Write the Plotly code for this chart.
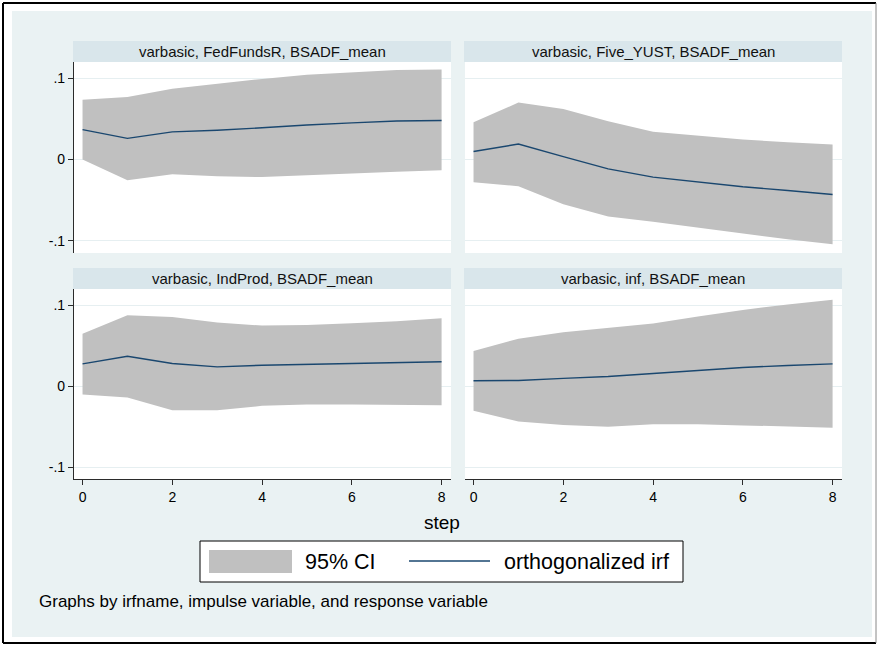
import plotly.graph_objects as go

# ---------------- data ----------------
steps = [0, 1, 2, 3, 4, 5, 6, 7, 8]

panel_titles = [
    "varbasic, FedFundsR, BSADF_mean",
    "varbasic, Five_YUST, BSADF_mean",
    "varbasic, IndProd, BSADF_mean",
    "varbasic, inf, BSADF_mean",
]

fed_irf = [0.0367, 0.0260, 0.0340, 0.0360, 0.0390, 0.0425, 0.0450, 0.0473, 0.0480]
fed_lo = [0.0000, -0.0253, -0.0180, -0.0204, -0.0216, -0.0190, -0.0170, -0.0150, -0.0133]
fed_hi = [0.0735, 0.0767, 0.0870, 0.0930, 0.0990, 0.1040, 0.1070, 0.1100, 0.1105]

five_irf = [0.0098, 0.0190, 0.0035, -0.0114, -0.0216, -0.0278, -0.0335, -0.0380, -0.0429]
five_lo = [-0.0278, -0.0327, -0.0550, -0.0700, -0.0763, -0.0837, -0.0910, -0.0980, -0.1040]
five_hi = [0.0457, 0.0700, 0.0620, 0.0470, 0.0340, 0.0290, 0.0245, 0.0212, 0.0184]

ind_irf = [0.0273, 0.0367, 0.0278, 0.0237, 0.0257, 0.0270, 0.0280, 0.0294, 0.0300]
ind_lo = [-0.0106, -0.0143, -0.0298, -0.0300, -0.0245, -0.0229, -0.0229, -0.0233, -0.0237]
ind_hi = [0.0645, 0.0873, 0.0853, 0.0784, 0.0747, 0.0755, 0.0776, 0.0800, 0.0837]

inf_irf = [0.0065, 0.0069, 0.0094, 0.0118, 0.0155, 0.0196, 0.0229, 0.0253, 0.0273]
inf_lo = [-0.0306, -0.0437, -0.0480, -0.0502, -0.0473, -0.0473, -0.0486, -0.0498, -0.0514]
inf_hi = [0.0433, 0.0584, 0.0665, 0.0722, 0.0771, 0.0857, 0.0939, 0.1008, 0.1065]

y_tickvals = [-0.1, 0, 0.1]
y_ticktext = ["-.1", "0", ".1"]
x_tickvals = [0, 2, 4, 6, 8]
x_ticktext = ["0", "2", "4", "6", "8"]

legend_labels = ["95% CI", "orthogonalized irf"]
x_title = "step"
note_text = "Graphs by irfname, impulse variable, and response variable"

# ---------------- style ----------------
W, H = 879, 646
FONT = "Arial, Liberation Sans, sans-serif"
NAVY = "#1a476f"
CI_GRAY = "#c0c0c0"
BG = "#eaf2f3"
STRIP = "#d9e6eb"
GRID = "#e6eff1"
AXIS = "#2b2b2b"


def px(x):
    return x / W


def py(y):
    return 1 - y / H


# panel geometry in pixels: (x0, x1, y_top, y_bottom)
col_x = [(74, 451), (465, 842)]
row_y = [(62, 253), (289, 479)]
strip_h = 21

series = [
    (fed_irf, fed_lo, fed_hi),
    (five_irf, five_lo, five_hi),
    (ind_irf, ind_lo, ind_hi),
    (inf_irf, inf_lo, inf_hi),
]

fig = go.Figure()
shapes = []
annotations = []

# outer background and frame
shapes.append(dict(type="rect", xref="paper", yref="paper", x0=px(12), x1=px(872),
                   y0=py(637), y1=py(11), fillcolor=BG, line=dict(width=0), layer="below"))
for (x0, y0, x1, y1, c, w) in [(3, 3, 876, 3, "black", 2), (3, 3, 3, 643, "black", 2),
                               (3, 643, 876, 643, "black", 2), (876, 3, 876, 643, "#888888", 1)]:
    shapes.append(dict(type="line", xref="paper", yref="paper", x0=px(x0), x1=px(x1),
                       y0=py(y0), y1=py(y1), line=dict(color=c, width=w), layer="below"))

for i, (irf, lo, hi) in enumerate(series):
    r, c = divmod(i, 2)
    n = i + 1
    xa = "x" if n == 1 else f"x{n}"
    ya = "y" if n == 1 else f"y{n}"
    (x0, x1), (yt, yb) = col_x[c], row_y[r]

    fig.add_trace(go.Scatter(x=steps, y=lo, mode="lines", line=dict(width=0, color=CI_GRAY),
                             showlegend=False, hoverinfo="skip", xaxis=xa, yaxis=ya))
    fig.add_trace(go.Scatter(x=steps, y=hi, mode="lines", line=dict(width=0, color=CI_GRAY),
                             fill="tonexty", fillcolor=CI_GRAY, name=legend_labels[0],
                             showlegend=False, xaxis=xa, yaxis=ya))
    fig.add_trace(go.Scatter(x=steps, y=irf, mode="lines", line=dict(width=1.4, color=NAVY),
                             name=legend_labels[1], showlegend=False, xaxis=xa, yaxis=ya))

    xkey = "xaxis" if n == 1 else f"xaxis{n}"
    ykey = "yaxis" if n == 1 else f"yaxis{n}"
    bottom = (r == 1)
    left = (c == 0)
    fig.update_layout({
        xkey: dict(domain=[px(x0), px(x1)], anchor=ya, range=[-0.19, 8.21],
                   showgrid=False, zeroline=False,
                   showline=bottom, linecolor=AXIS, linewidth=1.2,
                   ticks="outside" if bottom else "", ticklen=5, tickcolor=AXIS,
                   tickvals=x_tickvals, ticktext=x_ticktext, showticklabels=bottom,
                   tickfont=dict(family=FONT, size=14, color="black")),
        ykey: dict(domain=[py(yb), py(yt)], anchor=xa, range=[-0.1148, 0.1198],
                   showgrid=True, gridcolor=GRID, gridwidth=1, zeroline=False,
                   showline=left, linecolor=AXIS, linewidth=1.2,
                   ticks="outside" if left else "", ticklen=5, tickcolor=AXIS,
                   tickvals=y_tickvals, ticktext=y_ticktext, showticklabels=left,
                   tickfont=dict(family=FONT, size=14, color="black")),
    })

    # white plot area
    shapes.append(dict(type="rect", xref="paper", yref="paper", x0=px(x0), x1=px(x1),
                       y0=py(yb), y1=py(yt), fillcolor="white", line=dict(width=0), layer="below"))
    # strip header
    sx0 = x0 - 1
    shapes.append(dict(type="rect", xref="paper", yref="paper", x0=px(sx0), x1=px(x1),
                       y0=py(yt), y1=py(yt - strip_h), fillcolor=STRIP, line=dict(width=0),
                       layer="below"))
    annotations.append(dict(text=panel_titles[i], xref="paper", yref="paper",
                            x=px((sx0 + x1) / 2), y=py(yt - strip_h / 2), showarrow=False,
                            xanchor="center", yanchor="middle",
                            font=dict(family=FONT, size=15, color="#111111")))

# x axis title
annotations.append(dict(text=x_title, xref="paper", yref="paper", x=px(442), y=py(522),
                        showarrow=False, xanchor="center", yanchor="middle",
                        font=dict(family=FONT, size=19, color="black")))

# legend (drawn)
shapes.append(dict(type="rect", xref="paper", yref="paper", x0=px(200), x1=px(683),
                   y0=py(582), y1=py(541), fillcolor="white", line=dict(color="black", width=1)))
shapes.append(dict(type="rect", xref="paper", yref="paper", x0=px(209), x1=px(292),
                   y0=py(573), y1=py(550), fillcolor=CI_GRAY, line=dict(width=0)))
shapes.append(dict(type="line", xref="paper", yref="paper", x0=px(409), x1=px(490),
                   y0=py(561), y1=py(561), line=dict(color=NAVY, width=1.6)))
annotations.append(dict(text=legend_labels[0], xref="paper", yref="paper", x=px(303), y=py(562),
                        showarrow=False, xanchor="left", yanchor="middle",
                        font=dict(family=FONT, size=21.5, color="black")))
annotations.append(dict(text=legend_labels[1], xref="paper", yref="paper", x=px(502), y=py(562),
                        showarrow=False, xanchor="left", yanchor="middle",
                        font=dict(family=FONT, size=21.5, color="black")))

# note
annotations.append(dict(text=note_text, xref="paper", yref="paper", x=px(37), y=py(601),
                        showarrow=False, xanchor="left", yanchor="middle",
                        font=dict(family=FONT, size=17, color="black")))

fig.update_layout(
    width=W, height=H,
    margin=dict(l=0, r=0, t=0, b=0),
    paper_bgcolor="white", plot_bgcolor="rgba(0,0,0,0)",
    showlegend=False,
    shapes=shapes, annotations=annotations,
    font=dict(family=FONT),
)

fig.write_html("out.html",
               config={"displayModeBar": False},
               post_script="document.body.style.margin='0';document.body.style.padding='0';")
